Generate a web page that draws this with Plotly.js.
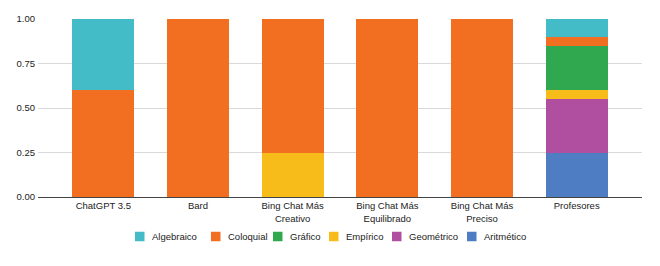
<!DOCTYPE html>
<html>
<head>
<meta charset="utf-8">
<script src="https://cdn.plot.ly/plotly-3.0.1.min.js"></script>
<style>html,body{margin:0;padding:0;background:#fff;}#chart{width:660px;height:266px;}</style>
</head>
<body>
<div id="chart"></div>
<script>
const categories = ["ChatGPT 3.5", "Bard", "Bing Chat Más<br>Creativo", "Bing Chat Más<br>Equilibrado", "Bing Chat Más<br>Preciso", "Profesores"];
// stacking order bottom -> top
const seriesNames = ["Aritmético", "Geométrico", "Empírico", "Gráfico", "Coloquial", "Algebraico"];
const aritmetico = [0, 0, 0, 0, 0, 0.25];
const geometrico = [0, 0, 0, 0, 0, 0.30];
const empirico   = [0, 0, 0.25, 0, 0, 0.05];
const grafico    = [0, 0, 0, 0, 0, 0.25];
const coloquial  = [0.60, 1, 0.75, 1, 1, 0.05];
const algebraico = [0.40, 0, 0, 0, 0, 0.10];
const yTicks = [0, 0.25, 0.5, 0.75, 1];
const yTickLabels = ["0.00", "0.25", "0.50", "0.75", "1.00"];

const values = [aritmetico, geometrico, empirico, grafico, coloquial, algebraico];
const colors = ["#4E7DC4", "#B04FA0", "#F8BC1A", "#2FA84F", "#F26E21", "#44BCC8"];

const traces = seriesNames.map((n, i) => ({
  type: "bar",
  name: n,
  x: categories.map((c, k) => k),
  y: values[i],
  width: 0.655,
  marker: {color: colors[i], line: {width: 0}},
  hoverinfo: "none",
  showlegend: false
}));

const font = {family: "Liberation Sans, Arial, sans-serif", size: 9.5, color: "#222"};

// legend layout (pixel positions of the swatches, left edges), legend order = reversed stacking
const M = {l: 38, r: 18, t: 19, b: 69};
const plotW = 660 - M.l - M.r, plotH = 266 - M.t - M.b;
const legendLeft = [135, 211, 273, 329, 392, 467];
const legendY = 236.5;
const px2x = p => (p - M.l) / plotW;
const px2y = p => (266 - M.b - p) / plotH;
const legendOrder = seriesNames.map((n, i) => i).reverse();
const shapes = [], annotations = [];
legendOrder.forEach((si, j) => {
  const x0 = legendLeft[j];
  shapes.push({type: "rect", xref: "paper", yref: "paper",
    x0: px2x(x0), x1: px2x(x0 + 9.5), y0: px2y(legendY + 4.75), y1: px2y(legendY - 4.75),
    fillcolor: colors[si], line: {width: 0}});
  annotations.push({xref: "paper", yref: "paper", x: px2x(x0 + 15), y: px2y(legendY),
    xanchor: "left", yanchor: "middle", showarrow: false, text: seriesNames[si], font: font});
});

Plotly.newPlot("chart", traces, {
  width: 660, height: 266,
  margin: M,
  barmode: "stack",
  paper_bgcolor: "#fff", plot_bgcolor: "#fff",
  font: font,
  showlegend: false,
  shapes: shapes,
  annotations: annotations,
  xaxis: {range: [-0.69, 5.69], tickmode: "array", tickvals: categories.map((c, k) => k), ticktext: categories,
          showgrid: false, zeroline: false, showline: true, linecolor: "#444", linewidth: 1, ticks: "", fixedrange: true},
  yaxis: {range: [0, 1], tickmode: "array", tickvals: yTicks, ticktext: yTickLabels, ticklabelstandoff: 2,
          showgrid: true, gridcolor: "#d9d9d9", gridwidth: 1, zeroline: false, showline: false, ticks: "", fixedrange: true}
}, {displayModeBar: false, staticPlot: true});
</script>
</body>
</html>
